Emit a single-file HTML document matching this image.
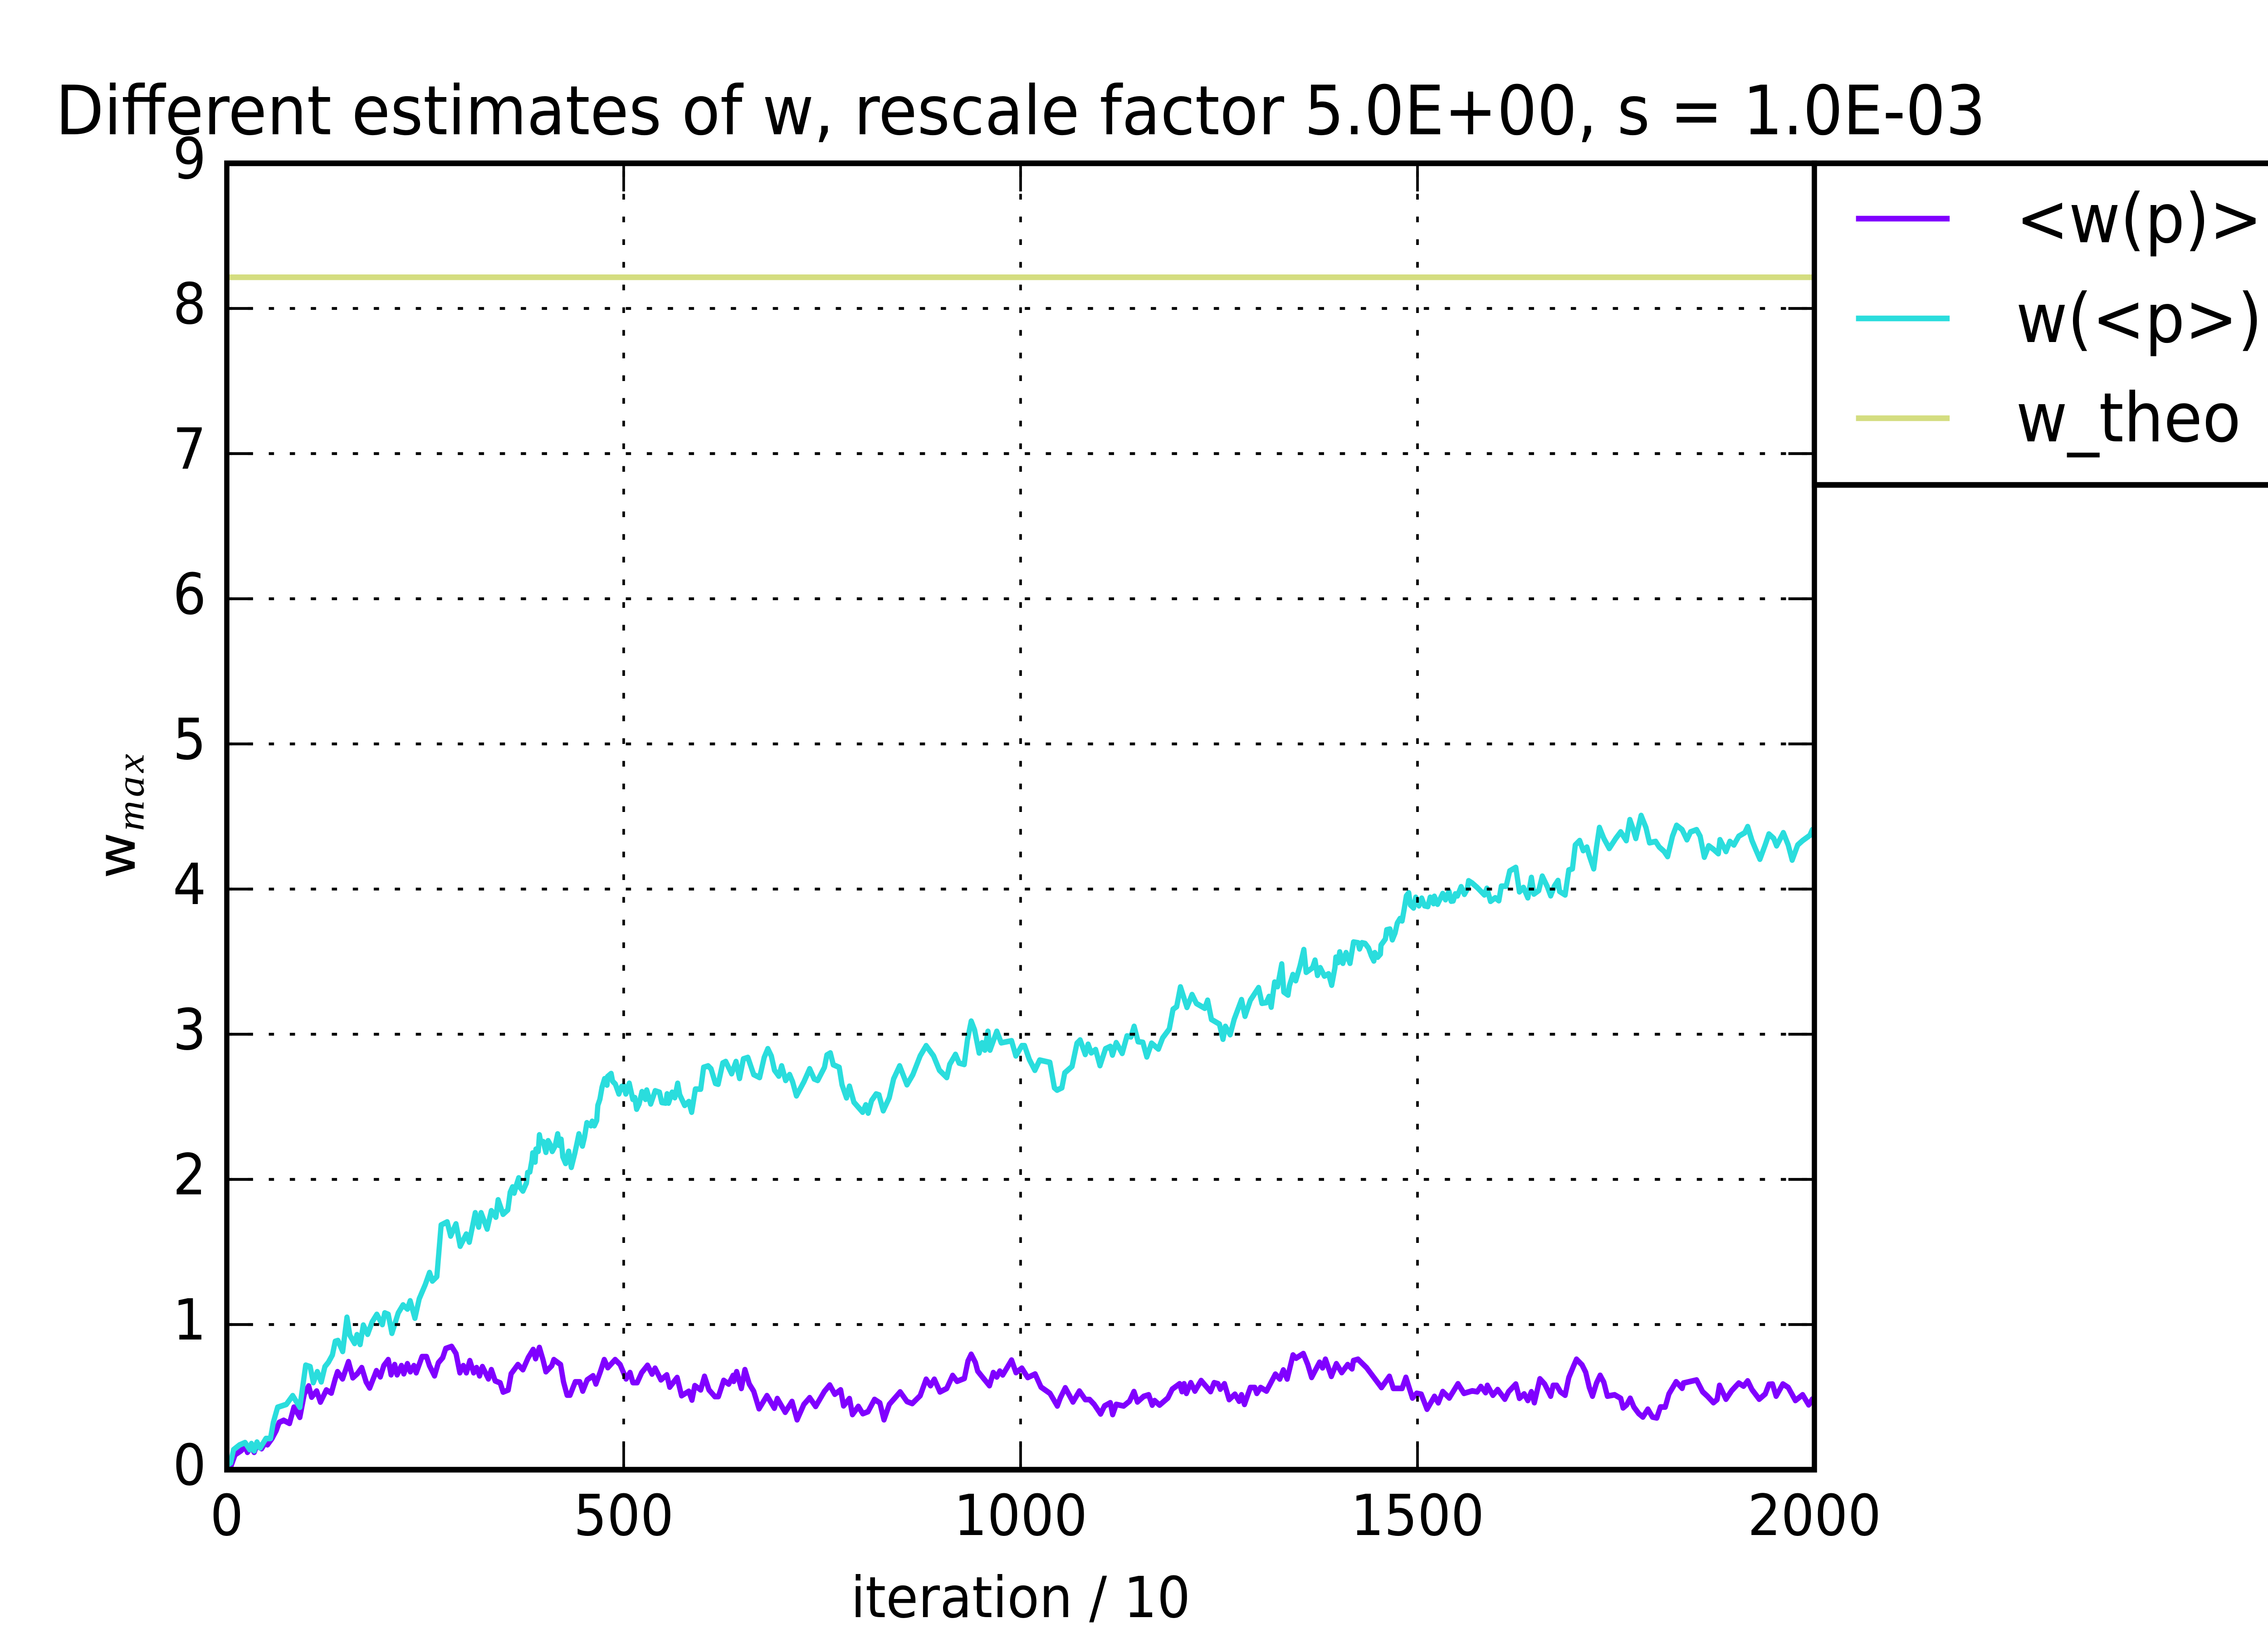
<!DOCTYPE html>
<html lang="en">
<head>
<meta charset="utf-8">
<title>Different estimates of w</title>
<style>
html,body{margin:0;padding:0;background:#fff;width:100%;height:100%}
svg{display:block;overflow:hidden;width:100vw;height:100vh}
text{font-family:"DejaVu Sans","Liberation Sans",sans-serif;fill:#000}
</style>
</head>
<body>
<svg id="chart" xmlns="http://www.w3.org/2000/svg" viewBox="0 0 5400 3600" preserveAspectRatio="none">
  <rect x="0" y="0" width="5400" height="3600" fill="#fff"/>
  <defs>
    <clipPath id="plot-clip"><rect x="540" y="360" width="3780" height="2880"/></clipPath>
  </defs>
  <g id="series-layer" clip-path="url(#plot-clip)"></g>
  <g id="grid-layer"></g>
  <g id="tick-layer"></g>
  <rect x="540" y="360" width="3780" height="2880" fill="none" stroke="#000" stroke-width="12.5"/>
  <text x="2430" y="296" font-size="150" text-anchor="middle">Different estimates of w, rescale factor 5.0E+00, s = 1.0E-03</text>
  <text x="2430" y="3565" font-size="125" text-anchor="middle">iteration / 10</text>
  <g>
    <text transform="translate(321,1937) rotate(-90)" font-size="125">w</text>
    <text transform="translate(342,1832) rotate(-90)" font-size="93" font-style="italic" textLength="170" style="font-family:'Liberation Serif',serif">max</text>
  </g>
  <g>
    <path d="M5400 360H4320V1069H5400" fill="#fff" stroke="#000" stroke-width="12.5"/>
    <g>
      <line x1="4419" x2="4642" y1="482" y2="482" stroke="#8000ff" stroke-width="12.5"/>
      <text x="4800" y="534" font-size="150">&lt;w(p)&gt;</text>
    </g>
    <g>
      <line x1="4419" x2="4642" y1="702" y2="702" stroke="#2adddd" stroke-width="12.5"/>
      <text x="4800" y="754" font-size="150">w(&lt;p&gt;)</text>
    </g>
    <g>
      <line x1="4419" x2="4642" y1="922" y2="922" stroke="#d4dd80" stroke-width="12.5"/>
      <text x="4800" y="973" font-size="150">w_theo</text>
    </g>
  </g>
</svg>
<script>
var xTickValues = [0, 500, 1000, 1500, 2000];
var yTickValues = [0, 1, 2, 3, 4, 5, 6, 7, 8, 9];
var xTickLabels = ["0", "500", "1000", "1500", "2000"];
var yTickLabels = ["0", "1", "2", "3", "4", "5", "6", "7", "8", "9"];
var wTheoValue = [8.215];
var wTheoIterations = [0, 2000];

var meanWIterations = [0,4.8,10.4,17.8,23.3,26,30.8,34.5,38.2,43.8,49.3,51.2,56.8,62.3,66,71.6,79,84.6,88.3,92,97.6,103.2,106.9,113.2,118,125.4,131.7,136.6,139.5,145.8,153.3,158.8,164.4,170,175.5,180,188.5,193.4,197.8,203.4,207,211.5,214.5,220,223,227.5,231.2,235.7,238.6,246,251.6,255.3,261.7,266.5,272,275.8,283.2,288.8,293.6,298,301.8,306.2,311,314.7,318.4,322,329.6,333.3,338.1,344.4,348.1,354.5,358.2,366.7,373,379.7,386,389,393.8,398.3,402,409.4,412,420.5,424.2,428.7,432.4,439,444.7,448.4,454,461.4,465,470.6,475.5,480,489.2,495.5,503,508,511.6,517,522.7,530,535.7,539.5,546.9,554.3,558,563.6,567.3,572.9,582,586,589.6,597,601.8,607.4,614.8,619.3,626,632.3,637.8,638.6,642.3,648.2,652.7,658.2,663.8,670.5,680.5,689.8,693.5,703.5,712,718.4,727,734.3,741.8,752.9,759.6,765.9,773.3,777,784.4,788.2,795.6,801.2,807.8,816,822.7,827.9,834.6,848.3,856.8,863.5,873.5,881,886.5,891.3,898.4,907,914.4,920,929.2,933.7,937.8,943,945.9,953.3,960.8,965.6,970,973.8,977.5,988.6,994.2,1001.6,1009,1018.3,1025.7,1037,1046.3,1050,1056.3,1066,1074.1,1081.5,1087,1092.7,1100.8,1105.7,1113,1116,1120.5,1129.8,1137.2,1142.8,1147.2,1155,1161.4,1165.8,1168.8,1175,1185.5,1191,1200.3,1203.3,1206,1208.9,1214.4,1219.6,1227.4,1239.3,1243.8,1248.6,1251.6,1256.8,1262.7,1270,1275.3,1278.3,1282,1289.4,1295,1297.6,1302.4,1309.8,1321,1326.5,1331,1335.8,1343.2,1347,1356.2,1361.8,1366.6,1376.6,1380.4,1384,1391.5,1397.8,1404.5,1412,1417.5,1419.3,1425,1436,1443.5,1454.6,1464.6,1469.5,1480.6,1485.4,1493.6,1499,1504.7,1512,1521.4,1526.2,1531.8,1540,1551,1558.5,1569,1575.2,1579.8,1585.8,1588,1595,1601,1610,1614.7,1623.8,1628.4,1634.4,1639,1643.5,1647.2,1654.2,1660.2,1667.8,1670.9,1675.4,1680,1686,1690.6,1696.7,1700.3,1707.3,1711.9,1716.4,1720.4,1725.5,1730.1,1734.7,1739.2,1748.3,1756,1759,1763.5,1768,1772.6,1778.7,1783.9,1790.2,1796,1801.5,1806,1812.1,1816.7,1825.8,1833.4,1835,1851.6,1859.2,1865.2,1872.8,1877.4,1880.4,1888.6,1895.6,1904.7,1910.8,1916,1921.4,1930.5,1938.1,1942.7,1947.2,1951.8,1960.3,1967,1976.1,1985.2,1992.8,1997.4,2000];
var meanWValues = [0.02,0.019,0.103,0.13,0.158,0.12,0.158,0.12,0.172,0.145,0.193,0.172,0.214,0.27,0.326,0.34,0.319,0.431,0.396,0.361,0.521,0.577,0.5,0.542,0.466,0.549,0.528,0.626,0.675,0.626,0.744,0.633,0.661,0.703,0.605,0.563,0.682,0.64,0.717,0.758,0.654,0.724,0.654,0.717,0.661,0.73,0.675,0.717,0.668,0.779,0.779,0.717,0.647,0.737,0.772,0.835,0.849,0.8,0.668,0.717,0.668,0.751,0.668,0.703,0.647,0.71,0.626,0.689,0.612,0.598,0.535,0.549,0.661,0.724,0.689,0.772,0.828,0.765,0.842,0.758,0.675,0.717,0.758,0.724,0.605,0.514,0.514,0.605,0.605,0.542,0.619,0.647,0.591,0.675,0.758,0.703,0.758,0.724,0.626,0.669,0.6,0.6,0.669,0.719,0.659,0.699,0.619,0.653,0.569,0.609,0.635,0.51,0.54,0.48,0.579,0.55,0.643,0.55,0.504,0.504,0.615,0.59,0.649,0.609,0.675,0.56,0.689,0.59,0.54,0.42,0.51,0.424,0.49,0.396,0.47,0.344,0.45,0.496,0.436,0.54,0.583,0.52,0.55,0.44,0.49,0.38,0.436,0.386,0.4,0.484,0.46,0.344,0.45,0.536,0.47,0.456,0.51,0.623,0.579,0.623,0.536,0.56,0.649,0.609,0.629,0.749,0.795,0.739,0.679,0.629,0.579,0.669,0.639,0.679,0.653,0.755,0.669,0.699,0.635,0.659,0.569,0.526,0.439,0.494,0.564,0.467,0.542,0.483,0.483,0.45,0.384,0.439,0.461,0.38,0.45,0.439,0.472,0.538,0.467,0.505,0.516,0.445,0.476,0.445,0.494,0.555,0.592,0.538,0.592,0.526,0.599,0.542,0.614,0.538,0.599,0.592,0.555,0.592,0.483,0.52,0.472,0.516,0.45,0.566,0.566,0.526,0.566,0.542,0.658,0.625,0.687,0.625,0.79,0.768,0.8,0.724,0.636,0.74,0.702,0.761,0.643,0.73,0.669,0.724,0.695,0.752,0.761,0.702,0.647,0.566,0.643,0.56,0.56,0.636,0.494,0.526,0.52,0.417,0.505,0.461,0.538,0.494,0.592,0.526,0.543,0.537,0.573,0.531,0.581,0.513,0.552,0.486,0.537,0.59,0.492,0.522,0.477,0.537,0.462,0.626,0.59,0.507,0.581,0.581,0.537,0.513,0.635,0.716,0.761,0.722,0.671,0.567,0.507,0.597,0.65,0.603,0.507,0.516,0.492,0.426,0.447,0.492,0.432,0.387,0.363,0.417,0.363,0.357,0.432,0.432,0.522,0.606,0.561,0.597,0.618,0.537,0.507,0.462,0.483,0.581,0.486,0.543,0.597,0.576,0.612,0.552,0.486,0.522,0.588,0.59,0.507,0.59,0.567,0.477,0.516,0.447,0.486,0.492];

var wOfMeanPIterations = [0,4.8,8.5,16,23,29,31,34.5,38,42,49.3,55,58.6,64,75,83,92,99.4,105,109,114,119,123.6,128,133,136.6,140,146,151.4,155,161,164,168,172,177.4,183,189,196,199,203.4,208,216,222,227.5,231,237,242.4,250,255.4,259,264.6,270,277.6,282,288.7,294,301.7,305.5,313,317.3,320.3,328,333.3,339,341.8,348,354,357,360,362,365,367.7,369,373,377.4,379,381.8,384.5,385.4,388.4,389.4,392.4,393.8,395.4,398.6,402,404.8,407.4,410,413.6,416.8,419,421.2,423.3,426.8,430.7,434,438.3,441,443.6,448,450.6,453.6,458.6,460.3,463,466,467.4,470,472.7,475.9,479,479.7,484.2,486,489.5,493.9,497.4,500,502.7,507,511.5,514,516.3,519.4,523,527.4,529,534,539.7,545,548,553,554.7,556.5,561,564.4,568,570.6,576.8,582,585.6,590.3,597,600.7,606.3,610,615.5,619,624.8,628.5,636,641.5,646,650.8,656.4,663.8,671.2,677,681.6,686,690,695.4,699,704,709,712.8,717.6,727,734.3,740,744.4,752.9,756,760.3,764,771.5,775,780.7,784.4,790,801,805,808,812.3,818,821.6,827,834.5,840,847.6,856.8,864.3,873.5,881,890.3,897.7,907,910.7,918,922.5,929,933,937.8,942,947.8,951.5,955,958.9,961.5,970,975.6,988.6,994,1001.6,1005,1011,1018,1024,1036.9,1042.6,1046,1052,1055.6,1064.8,1071,1075,1081.5,1085,1089,1094.5,1100,1107,1113,1115.7,1120.5,1128,1134,1139,1143,1148,1154,1159,1165,1173.6,1179,1187.3,1192,1196.6,1201.4,1209.6,1216,1221.5,1232,1235.6,1240.4,1250.4,1255,1258,1264,1269,1278.3,1282.7,1289.4,1299.8,1304,1309.5,1313,1315.7,1318.4,1320,1323.7,1329,1331.6,1336.9,1338.6,1343,1346.6,1351.9,1356.8,1359.8,1367.8,1370.9,1374,1377.5,1382.7,1388,1391.9,1396,1397.2,1400,1402,1406,1410,1415,1419.4,1425,1427,1430,1434,1438.3,1441.8,1445,1446.2,1449.8,1453.3,1454,1459.5,1461.2,1465.3,1468.3,1471.8,1474.5,1478,1480.6,1483.3,1486,1489,1491,1495,1497.8,1501.8,1505.3,1508.9,1513,1516,1520.3,1521.2,1525.3,1531.8,1535.3,1539.7,1542.4,1545,1547.7,1550.3,1555,1559.1,1562.7,1564.4,1569,1575.2,1584.3,1587.4,1592,1598,1602.5,1605.6,1611.7,1616.2,1623.8,1628.4,1633.5,1639,1643.5,1646.6,1652.7,1657.2,1663.3,1667.8,1672.4,1677,1679,1686,1690.6,1695.2,1698.8,1704.3,1708.8,1713.4,1716.4,1722,1725.5,1729.2,1734.7,1741.6,1749.8,1756,1763,1767.5,1771,1775,1781.7,1787.8,1792.3,1800,1804.5,1810.6,1815.1,1821.2,1826.4,1833.4,1839.4,1844,1851.6,1856.1,1861.3,1866.8,1872.8,1879,1881,1888.6,1893.5,1898.6,1904.7,1912.3,1916,1921.4,1926,1931.4,1938,1942.7,1948.8,1952.4,1960.9,1967,1972,1979,1985.2,1994.3,1997.4,2000];
var wOfMeanPValues = [0.03,0.047,0.138,0.17,0.187,0.138,0.18,0.13,0.19,0.15,0.215,0.215,0.326,0.43,0.45,0.51,0.43,0.72,0.71,0.6,0.675,0.605,0.71,0.74,0.79,0.884,0.89,0.815,1.05,0.926,0.87,0.93,0.863,0.996,0.933,1.017,1.07,1.0,1.08,1.07,0.94,1.08,1.135,1.107,1.163,1.044,1.177,1.275,1.358,1.3,1.33,1.686,1.707,1.61,1.693,1.54,1.623,1.568,1.77,1.672,1.77,1.658,1.784,1.74,1.859,1.76,1.79,1.911,1.948,1.906,1.963,2.01,1.948,1.92,1.974,2.047,2.052,2.135,2.182,2.12,2.208,2.193,2.307,2.26,2.26,2.187,2.266,2.24,2.193,2.23,2.313,2.234,2.276,2.156,2.11,2.193,2.083,2.177,2.245,2.313,2.23,2.29,2.39,2.37,2.4,2.37,2.406,2.51,2.552,2.635,2.693,2.65,2.708,2.729,2.677,2.656,2.589,2.64,2.646,2.589,2.662,2.552,2.563,2.484,2.52,2.604,2.552,2.615,2.52,2.61,2.6,2.53,2.526,2.589,2.526,2.6,2.563,2.662,2.583,2.51,2.536,2.463,2.622,2.622,2.772,2.782,2.762,2.662,2.656,2.802,2.812,2.728,2.812,2.696,2.83,2.84,2.722,2.702,2.84,2.9,2.85,2.752,2.712,2.782,2.682,2.722,2.672,2.576,2.672,2.762,2.692,2.682,2.772,2.857,2.871,2.79,2.772,2.652,2.562,2.642,2.532,2.463,2.513,2.457,2.543,2.588,2.582,2.473,2.562,2.692,2.782,2.652,2.722,2.851,2.921,2.851,2.752,2.702,2.792,2.861,2.802,2.792,2.961,3.09,3.03,2.871,2.941,2.891,3.02,2.891,3.02,2.941,2.955,2.851,2.921,2.921,2.826,2.752,2.822,2.806,2.631,2.615,2.631,2.734,2.778,2.938,2.96,2.861,2.931,2.872,2.894,2.784,2.9,2.916,2.857,2.942,2.868,2.988,2.982,3.054,2.949,2.944,2.844,2.938,2.898,2.975,3.036,3.172,3.19,3.326,3.185,3.273,3.212,3.179,3.234,3.102,3.07,2.966,3.054,2.997,3.102,3.238,3.124,3.234,3.321,3.213,3.218,3.26,3.187,3.296,3.359,3.328,3.484,3.291,3.27,3.333,3.411,3.369,3.469,3.583,3.427,3.458,3.51,3.406,3.458,3.401,3.416,3.338,3.458,3.531,3.494,3.567,3.489,3.562,3.489,3.635,3.63,3.588,3.63,3.625,3.594,3.541,3.505,3.562,3.531,3.552,3.614,3.656,3.719,3.724,3.651,3.698,3.765,3.797,3.781,3.864,3.953,3.974,3.891,3.87,3.943,3.885,3.937,3.885,3.88,3.943,3.9,3.95,3.896,3.969,3.927,3.984,3.917,3.919,3.967,3.953,4.016,3.964,4.0,4.057,4.041,4.011,3.96,4.005,3.916,3.94,3.92,4.02,4.02,4.125,4.149,3.981,4.011,3.94,4.08,3.966,3.99,4.089,4.02,3.954,4.02,4.059,3.984,3.96,4.131,4.14,4.304,4.334,4.265,4.289,4.23,4.14,4.289,4.424,4.349,4.28,4.349,4.394,4.334,4.478,4.424,4.349,4.507,4.424,4.319,4.328,4.29,4.26,4.224,4.364,4.439,4.409,4.34,4.394,4.409,4.364,4.22,4.298,4.274,4.244,4.34,4.259,4.328,4.304,4.364,4.388,4.43,4.334,4.274,4.206,4.304,4.379,4.349,4.298,4.388,4.304,4.2,4.304,4.334,4.37,4.409,4.39];

var SVG_NS = "http://www.w3.org/2000/svg";
var plotLeft = 540, plotRight = 4320, plotTop = 360, plotBottom = 3240;
var xDomainMax = 2000, yDomainMax = 9;

function xScale(v) { return plotLeft + (v / xDomainMax) * (plotRight - plotLeft); }
function yScale(v) { return plotBottom - (v / yDomainMax) * (plotBottom - plotTop); }

function makeEl(tag, attrs, parent) {
  var el = document.createElementNS(SVG_NS, tag);
  for (var k in attrs) { el.setAttribute(k, attrs[k]); }
  parent.appendChild(el);
  return el;
}

function linePath(xs, ys) {
  var d = "";
  for (var i = 0; i < xs.length; i++) {
    d += (i === 0 ? "M" : "L") + xScale(xs[i]).toFixed(1) + " " + yScale(ys[i]).toFixed(1);
  }
  return d;
}

var seriesLayer = document.getElementById("series-layer");
var gridLayer = document.getElementById("grid-layer");
var tickLayer = document.getElementById("tick-layer");
var svgRoot = document.getElementById("chart");

var seriesStyle = {fill: "none", "stroke-width": "12.5", "stroke-linejoin": "round", "stroke-linecap": "butt"};

var meanLine = makeEl("path", seriesStyle, seriesLayer);
meanLine.setAttribute("d", linePath(meanWIterations, meanWValues));
meanLine.setAttribute("stroke", "#8000ff");



var pLine = makeEl("path", seriesStyle, seriesLayer);
pLine.setAttribute("d", linePath(wOfMeanPIterations, wOfMeanPValues));
pLine.setAttribute("stroke", "#2adddd");



var theoLine = makeEl("path", seriesStyle, seriesLayer);
theoLine.setAttribute("d", linePath(wTheoIterations, [wTheoValue[0], wTheoValue[0]]));
theoLine.setAttribute("stroke", "#d4dd80");



var gridStyle = {stroke: "#000", "stroke-width": "6.25", "stroke-dasharray": "12.5 37.5"};
var tickStyle = {stroke: "#000", "stroke-width": "6.25"};
var tickLen = 62;

xTickValues.forEach(function (v, i) {
  var x = xScale(v);
  var g = makeEl("line", gridStyle, gridLayer);
  g.setAttribute("x1", x); g.setAttribute("x2", x);
  g.setAttribute("y1", plotBottom); g.setAttribute("y2", plotTop);
  
  

  var tb = makeEl("line", tickStyle, tickLayer);
  tb.setAttribute("x1", x); tb.setAttribute("x2", x);
  tb.setAttribute("y1", plotBottom); tb.setAttribute("y2", plotBottom - tickLen);
  
  

  var tt = makeEl("line", tickStyle, tickLayer);
  tt.setAttribute("x1", x); tt.setAttribute("x2", x);
  tt.setAttribute("y1", plotTop); tt.setAttribute("y2", plotTop + tickLen);
  
  

  var lab = makeEl("text", {x: x, y: 3384, "font-size": "125", "text-anchor": "middle"}, svgRoot);
  lab.textContent = xTickLabels[i];
  
  
});

yTickValues.forEach(function (v, i) {
  var y = yScale(v);
  var g = makeEl("line", gridStyle, gridLayer);
  g.setAttribute("x1", plotLeft); g.setAttribute("x2", plotRight);
  g.setAttribute("y1", y); g.setAttribute("y2", y);
  
  

  var tl = makeEl("line", tickStyle, tickLayer);
  tl.setAttribute("x1", plotLeft); tl.setAttribute("x2", plotLeft + tickLen);
  tl.setAttribute("y1", y); tl.setAttribute("y2", y);
  
  

  var tr = makeEl("line", tickStyle, tickLayer);
  tr.setAttribute("x1", plotRight); tr.setAttribute("x2", plotRight - tickLen);
  tr.setAttribute("y1", y); tr.setAttribute("y2", y);
  
  

  var lab = makeEl("text", {x: 491, y: y + 33, "font-size": "125", "text-anchor": "end"}, svgRoot);
  lab.textContent = yTickLabels[i];
  
  
});
</script>
</body>
</html>
